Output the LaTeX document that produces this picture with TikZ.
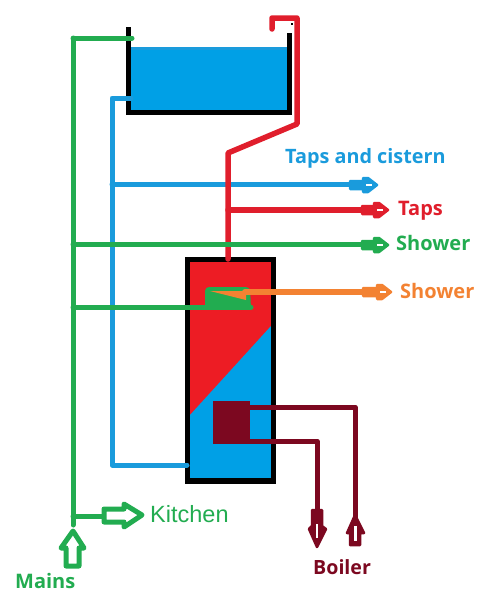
\documentclass[tikz,border=0pt]{standalone}
\usepackage{fontspec}
\setmainfont{Open Sans}
\newfontfamily\kitfont{Liberation Sans}
\definecolor{pgreen}{RGB}{34,172,80}
\definecolor{pblue}{RGB}{26,155,220}
\definecolor{wblue}{RGB}{0,160,230}
\definecolor{pred}{RGB}{224,30,44}
\definecolor{tred}{RGB}{237,28,36}
\definecolor{pmar}{RGB}{124,8,32}
\definecolor{porange}{RGB}{243,130,50}
\tikzset{
 pipe/.style={line width=#1,line join=round,line cap=round},
 pipe/.default=5pt,
 lab/.style={anchor=west,inner sep=0pt,font=\bfseries\fontsize{#1}{#1}\selectfont},
 lab/.default=16pt,
 headfill/.style={line width=2.5pt,line join=round},
 hollow/.style={line width=5pt,line join=round,draw=#1,fill=white}
}
\newcommand{\flatarrow}[4]{% colour, x start, x tip, y
 \fill[#1,draw=#1,headfill] (#2,#4-4) -- (#3-15,#4-4) -- (#3-15,#4-7) -- (#3-10,#4-7) -- (#3-1,#4) -- (#3-10,#4+7) -- (#3-15,#4+7) -- (#3-15,#4+4) -- (#2,#4+4) -- cycle;
 \fill[white] (#3-12,#4-0.7) rectangle (#3-6,#4+0.7);
}
\begin{document}
\begin{tikzpicture}[x=1pt,y=-1pt]
\useasboundingbox (0,0) rectangle (484,597);
% named points
\coordinate (tankIn) at (132,38);
\coordinate (mainTop) at (73,38);
\coordinate (mainEnd) at (73,525);
\coordinate (tankOut) at (131,98);
\coordinate (bluecorner) at (112,98);
\coordinate (blueLow) at (112,465);
\coordinate (cylIn) at (187,465);
\coordinate (blueTee) at (112,184);
\coordinate (blueEnd) at (365,184);
\coordinate (redA) at (272,29);
\coordinate (redB) at (272,18);
\coordinate (redC) at (297,18);
\coordinate (redD) at (297,124);
\coordinate (redE) at (228,153);
\coordinate (redF) at (228,259);
\coordinate (redTee) at (228,210);
\coordinate (redEnd) at (370,210);
\coordinate (grTee) at (73,244);
\coordinate (grEnd) at (370,244);
\coordinate (grLow) at (73,307);
\coordinate (grLowEnd) at (251,307);
\coordinate (orA) at (245,292);
\coordinate (orEnd) at (370,292);
\coordinate (kitTee) at (73,516);
\coordinate (kitEnd) at (104,516);
% tank
\fill[wblue] (130,47) rectangle (288,111);
\draw[pblue,line width=3pt,line cap=round] (129,48) -- (288,48);
\draw[black,line width=5.5pt,line join=miter] (128.5,27) -- (128.5,112.5) -- (289.5,112.5) -- (289.5,33);
\fill[black] (290.5,23) rectangle (292.5,25);
% cylinder
\fill[tred] (188,260) rectangle (274,420);
\fill[wblue] (190,415) -- (271,326) -- (274,326) -- (274,481) -- (188,481) -- (188,415) -- cycle;
\draw[black,line width=5.5pt,line join=miter] (187.5,259.5) rectangle (273.5,481);
% pipes
\draw[pgreen,pipe] (mainTop) -- (mainEnd);
\draw[pgreen,pipe] (mainTop) -- (tankIn);
\draw[pblue,pipe] (tankOut) -- (bluecorner) -- (blueLow) -- (cylIn);
\draw[pblue,pipe] (blueTee) -- (blueEnd);
\draw[pred,pipe=5.5pt] (redA) -- (redB) -- (redC) -- (redD) -- (redE) -- (redF);
\draw[pred,pipe=5.5pt] (redTee) -- (redEnd);
\draw[pgreen,pipe] (grTee) -- (grEnd);
\draw[pgreen,pipe] (grLow) -- (grLowEnd);
% shower mixer
\fill[pgreen,rounded corners=4pt] (205,287) -- (250,287) -- (251,309) -- (205,309) -- cycle;
\fill[porange] (210,291) -- (246,291) -- (246,300) -- cycle;
\draw[porange,pipe=6pt] (orA) -- (orEnd);
% heater coil
\fill[pmar] (213,401) rectangle (250,444);
\coordinate (coilHi) at (250,407);
\coordinate (coilHiC) at (355,407);
\coordinate (coilHiE) at (355,520);
\coordinate (coilLo) at (250,441);
\coordinate (coilLoC) at (317,441);
\coordinate (coilLoE) at (317,512);
\draw[pmar,pipe] (coilHi) -- (coilHiC) -- (coilHiE);
\draw[pmar,pipe] (coilLo) -- (coilLoC) -- (coilLoE);
% flat arrow heads
\flatarrow{pblue}{350}{378}{185}
\flatarrow{pred}{362}{389}{210}
\flatarrow{pgreen}{362}{389}{245}
\flatarrow{porange}{363}{392}{292}
% boiler arrows
\fill[pmar,draw=pmar,headfill] (312,510) -- (322,510) -- (322,526) -- (326,529) -- (317,547) -- (309,529) -- (312,526) -- cycle;
\fill[white] (316.3,524) rectangle (317.7,538);
\fill[pmar,draw=pmar,headfill] (350,545) -- (360,545) -- (360,533) -- (364,533) -- (355,515) -- (347,533) -- (350,533) -- cycle;
\fill[white] (353.5,526) rectangle (356.5,541);
% hollow arrows
\draw[pgreen,pipe] (kitTee) -- (kitEnd);
\draw[hollow=pgreen] (104,509) -- (124,509) -- (124,504) -- (142,515) -- (124,527) -- (124,522) -- (104,522) -- cycle;
\draw[hollow=pgreen] (66,566) -- (79,566) -- (79,548) -- (84,548) -- (73,531) -- (61,548) -- (66,548) -- cycle;
% labels
\node[lab=19.8pt,text=pblue] (l1) at (285,158) {Taps and cistern};
\node[lab=20pt,text=pred] (l2) at (398,211) {Taps};
\node[lab=20pt,text=pgreen] (l3) at (396,243) {Shower};
\node[lab=20pt,text=porange] (l4) at (400,291) {Shower};
\node[anchor=west,inner sep=0pt,text=pgreen,font=\kitfont\fontsize{23.5}{23.5}\selectfont] (l5) at (150,514) {Kitchen};
\node[lab=20pt,text=pgreen] (l6) at (15,581) {Mains};
\node[lab=19.6pt,text=pmar] (l7) at (313,567) {Boiler};
\end{tikzpicture}
\end{document}
